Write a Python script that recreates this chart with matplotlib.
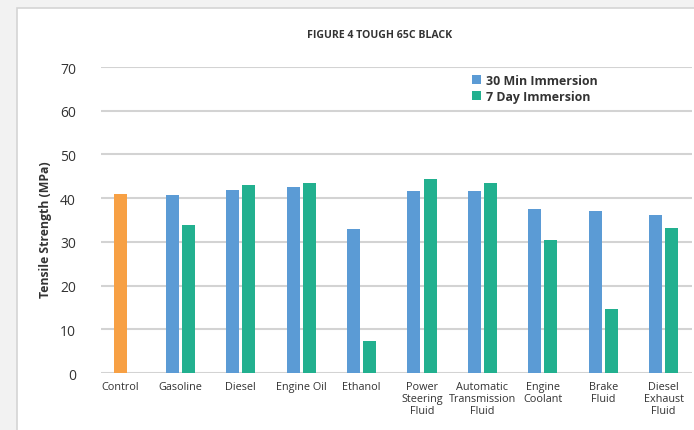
import numpy as np
import matplotlib.pyplot as plt
from matplotlib.patches import Rectangle

plt.rcParams['font.family'] = ['Open Sans', 'DejaVu Sans']

categories = ['Control', 'Gasoline', 'Diesel', 'Engine Oil', 'Ethanol',
              'Power\nSteering\nFluid', 'Automatic\nTransmission\nFluid',
              'Engine\nCoolant', 'Brake\nFluid', 'Diesel\nExhaust\nFluid']
control = [41.0]
min30 = [40.7, 41.9, 42.5, 33.0, 41.6, 41.6, 37.5, 37.1, 36.2]
day7 = [33.9, 43.0, 43.5, 7.3, 44.4, 43.5, 30.4, 14.6, 33.2]

blue = '#5B9BD5'
green = '#22B08F'
orange = '#F7A044'

fig = plt.figure(figsize=(6.94, 4.31), dpi=100)
fig.patch.set_facecolor('#f2f2f2')
# white panel behind the chart
fig.patches.append(Rectangle((17/694, -0.01), 1.0, 1 - 9/431 + 0.01,
                             transform=fig.transFigure, facecolor='white',
                             edgecolor='#d4d4d4', linewidth=1.2, zorder=-5))

ax = fig.add_axes([101/694, 1 - 374/431, 591/694, (374 - 68)/431])
ax.set_facecolor('none')

x = np.arange(len(categories))
w = 0.215
off = 0.133
ax.bar(x[:1], control, w, color=orange, zorder=3)
ax.bar(x[1:] - off, min30, w, color=blue, zorder=3, label='30 Min Immersion')
ax.bar(x[1:] + off, day7, w, color=green, zorder=3, label='7 Day Immersion')

ax.set_xlim(-0.315, 9.47)
ax.set_ylim(0, 70)
ax.set_yticks(range(0, 71, 10))
ax.yaxis.grid(True, color='#d3d3d3', linewidth=1.5)
ax.set_axisbelow(True)
for s in ax.spines.values():
    s.set_visible(False)
ax.tick_params(axis='both', length=0, colors='#333333')
ax.tick_params(axis='y', labelsize=10, pad=18)
ax.set_xticks(x)
ax.set_xticklabels(categories, fontsize=7.8, linespacing=1.12)
ax.tick_params(axis='x', pad=6)

fig.text(46/694, 1 - 230/431, 'Tensile Strength (MPa)', rotation=90,
         ha='center', va='center', fontsize=8.8, fontweight='bold', color='#333333')
fig.text(380/694, 1 - 36/431, 'FIGURE 4 TOUGH 65C BLACK', ha='center', va='center',
         fontsize=7.6, fontweight='bold', color='#333333')

leg = ax.legend(loc='upper left', bbox_to_anchor=((467 - 101)/591, (374 - 70)/306),
                frameon=False, prop={'weight': 'bold', 'size': 8.9},
                handlelength=0.7, handleheight=0.7, handletextpad=0.45,
                labelspacing=0.22, borderaxespad=0)
for t in leg.get_texts():
    t.set_color('#333333')

fig.savefig('out.png', dpi=100, facecolor=fig.get_facecolor())
